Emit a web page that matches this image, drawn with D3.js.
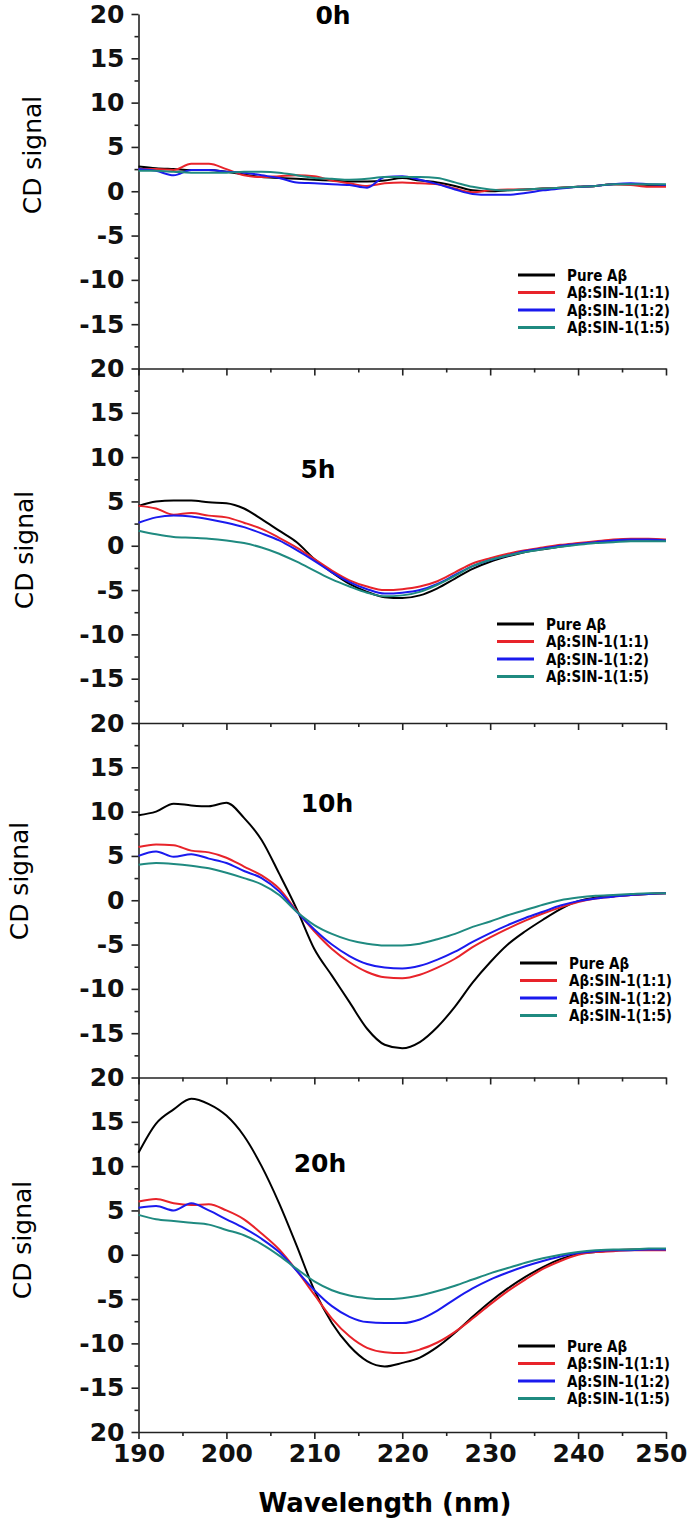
<!DOCTYPE html>
<html>
<head>
<meta charset="utf-8">
<script src="https://cdn.jsdelivr.net/npm/d3@7"></script>
<style>
  html, body { margin: 0; padding: 0; background: #fff; }
  svg { display: block; }
</style>
</head>
<body>
<script>
// ---------------- DATA ----------------
const wavelengths = [190,192,194,196,198,200,202,204,206,208,210,212,214,216,218,220,222,224,226,228,230,232,234,236,238,240,242,244,246,248,250];
const seriesNames = ["Pure A\u03b2", "A\u03b2:SIN-1(1:1)", "A\u03b2:SIN-1(1:2)", "A\u03b2:SIN-1(1:5)"];
const panelTitles = ["0h", "5h", "10h", "20h"];
const xTickValues = [190, 200, 210, 220, 230, 240, 250];
const yTickValues = [20, 15, 10, 5, 0, -5, -10, -15, -20];
const yTickLabels = ["20", "15", "10", "5", "0", "-5", "-10", "-15", "20"];

// 0 h
const h0_pure = [2.8,2.6,2.5,2.4,2.4,2.2,1.9,1.6,1.5,1.4,1.3,1.2,1.1,1.1,1.2,1.5,1.2,1.0,0.6,0.1,0.0,0.1,0.2,0.3,0.4,0.5,0.6,0.8,0.8,0.7,0.7];
const h0_r11  = [2.5,2.5,2.4,3.1,3.1,2.5,1.8,1.6,1.7,1.8,1.7,1.2,0.9,0.6,0.9,1.0,0.9,0.8,0.3,-0.1,0.1,0.2,0.2,0.3,0.4,0.5,0.6,0.8,0.7,0.5,0.5];
const h0_r12  = [2.5,2.3,1.8,2.4,2.4,2.2,2.1,1.8,1.5,1.0,0.9,0.8,0.7,0.4,1.6,1.7,1.3,0.8,0.2,-0.3,-0.4,-0.4,-0.2,0.1,0.3,0.5,0.6,0.8,0.9,0.8,0.7];
const h0_r15  = [2.3,2.3,2.2,2.1,2.1,2.1,2.2,2.2,2.1,1.8,1.5,1.4,1.3,1.4,1.6,1.6,1.6,1.5,1.0,0.5,0.2,0.1,0.2,0.3,0.4,0.5,0.6,0.8,0.8,0.8,0.8];
// 5 h
const h5_pure = [4.5,5.0,5.1,5.1,4.9,4.8,4.2,3.0,1.7,0.4,-1.5,-3.0,-4.3,-5.2,-5.8,-5.9,-5.6,-4.8,-3.7,-2.6,-1.8,-1.2,-0.7,-0.4,-0.1,0.2,0.4,0.6,0.7,0.7,0.6];
const h5_r11  = [4.5,4.2,3.5,3.7,3.4,3.2,2.6,1.9,0.9,-0.2,-1.5,-2.8,-3.9,-4.6,-5.0,-4.9,-4.6,-4.0,-3.0,-2.0,-1.4,-0.9,-0.5,-0.2,0.1,0.3,0.5,0.7,0.8,0.8,0.7];
const h5_r12  = [2.6,3.2,3.4,3.3,3.0,2.6,2.1,1.4,0.6,-0.5,-1.7,-3.0,-4.1,-4.9,-5.4,-5.3,-5.0,-4.3,-3.3,-2.3,-1.6,-1.1,-0.6,-0.3,0.0,0.2,0.4,0.6,0.7,0.7,0.6];
const h5_r15  = [1.7,1.3,1.0,0.9,0.8,0.6,0.3,-0.2,-0.9,-1.8,-2.8,-3.8,-4.6,-5.3,-5.7,-5.6,-5.2,-4.4,-3.4,-2.3,-1.6,-1.1,-0.7,-0.4,-0.1,0.1,0.3,0.4,0.5,0.5,0.5];
// 10 h
const h10_pure = [9.6,10.0,10.9,10.7,10.6,11.0,9.3,6.8,3.0,-1.0,-5.5,-8.5,-11.5,-14.5,-16.3,-16.7,-16.0,-14.3,-12.0,-9.3,-7.0,-5.0,-3.5,-2.2,-1.0,-0.1,0.3,0.5,0.6,0.7,0.8];
const h10_r11  = [6.0,6.3,6.2,5.6,5.4,4.8,3.8,2.8,1.3,-1.2,-3.5,-5.5,-7.0,-8.1,-8.7,-8.8,-8.4,-7.6,-6.6,-5.3,-4.2,-3.2,-2.3,-1.5,-0.8,-0.2,0.2,0.4,0.6,0.7,0.8];
const h10_r12  = [5.0,5.5,4.9,5.2,4.7,4.2,3.3,2.5,1.0,-1.3,-3.3,-5.0,-6.3,-7.2,-7.6,-7.7,-7.4,-6.7,-5.8,-4.7,-3.7,-2.8,-2.0,-1.3,-0.6,-0.1,0.2,0.4,0.6,0.7,0.8];
const h10_r15  = [4.0,4.2,4.1,3.9,3.6,3.1,2.5,1.8,0.6,-1.3,-2.8,-3.8,-4.5,-4.9,-5.1,-5.1,-4.9,-4.4,-3.8,-3.0,-2.4,-1.7,-1.1,-0.5,0.0,0.3,0.5,0.6,0.7,0.8,0.8];
// 20 h
const h20_pure = [11.5,14.8,16.4,17.6,17.0,15.7,13.4,10.0,5.8,1.0,-4.0,-7.7,-10.3,-12.0,-12.6,-12.2,-11.6,-10.4,-8.8,-7.0,-5.3,-3.8,-2.5,-1.4,-0.5,0.1,0.3,0.5,0.6,0.6,0.6];
const h20_r11  = [6.0,6.3,5.8,5.6,5.7,5.0,4.0,2.4,0.6,-1.8,-4.5,-7.2,-9.2,-10.5,-11.0,-11.1,-10.7,-9.9,-8.7,-7.2,-5.6,-4.1,-2.8,-1.6,-0.7,0.0,0.3,0.4,0.5,0.5,0.5];
const h20_r12  = [5.3,5.5,5.0,5.8,5.0,4.0,3.0,1.8,0.3,-1.8,-4.0,-5.8,-7.0,-7.6,-7.7,-7.7,-7.3,-6.3,-5.0,-3.8,-2.8,-2.0,-1.3,-0.7,-0.2,0.2,0.4,0.5,0.5,0.6,0.6];
const h20_r15  = [4.5,4.0,3.8,3.6,3.4,2.8,2.2,1.2,-0.1,-1.6,-3.0,-4.0,-4.6,-4.9,-5.0,-4.9,-4.6,-4.1,-3.5,-2.8,-2.1,-1.5,-0.9,-0.4,0.0,0.3,0.5,0.6,0.6,0.7,0.7];

const panelSeries = [
  [h0_pure, h0_r11, h0_r12, h0_r15],
  [h5_pure, h5_r11, h5_r12, h5_r15],
  [h10_pure, h10_r11, h10_r12, h10_r15],
  [h20_pure, h20_r11, h20_r12, h20_r15]
];

// ---------------- STYLE / LAYOUT ----------------
const colors = ["#000000", "#e8232a", "#1a1aee", "#1f8a80"];
const W = 688, H = 1523;
const top0 = 14, panelH = 354.5;
const xLeft = 138.5, xRight = 666;
const titlePos = [[333, 24], [318, 478], [327, 812], [320, 1172]];
const ylabPos = [[41, 155], [33, 550], [28, 881], [31, 1240]];
const legendPos = [[518, 275], [497, 624], [520, 963], [518, 1346]];
const legendStep = 17.5;

const svg = d3.select("body").append("svg").attr("width", W).attr("height", H);

const x = d3.scaleLinear().domain([190, 250]).range([xLeft, xRight]);
const boldFont = "'DejaVu Sans', Verdana, sans-serif";

panelSeries.forEach((series, p) => {
  const T = top0 + p * panelH;
  const y = d3.scaleLinear().domain([-20, 20]).range([T + panelH, T]);
  const g = svg.append("g");

  // minor y ticks
  const minorVals = [-17.5, -12.5, -7.5, -2.5, 2.5, 7.5, 12.5, 17.5];
  const yMinor = d3.axisLeft(y).tickValues(minorVals).tickSize(4).tickSizeOuter(0).tickFormat("");
  g.append("g").attr("transform", `translate(${xLeft},0)`).call(yMinor)
    .call(s => s.select(".domain").remove());

  // major y ticks
  const majVals = p === 0 ? yTickValues : yTickValues.slice(1);
  const yMajor = d3.axisLeft(y).tickValues(majVals).tickSize(7).tickSizeOuter(0)
    .tickPadding(7)
    .tickFormat(v => yTickLabels[yTickValues.indexOf(v)]);
  g.append("g").attr("class", "yax").attr("transform", `translate(${xLeft},0)`).call(yMajor);

  // x axis at bottom of panel
  const xMinor = d3.axisBottom(x).tickValues([195, 205, 215, 225, 235, 245]).tickSize(4).tickSizeOuter(0).tickFormat("");
  g.append("g").attr("transform", `translate(0,${T + panelH})`).call(xMinor)
    .call(s => s.select(".domain").remove());
  const xMajor = d3.axisBottom(x).tickValues(xTickValues).tickSize(7).tickSizeOuter(0).tickPadding(5)
    .tickFormat(p === 3 ? d3.format("d") : "");
  g.append("g").attr("class", "xax").attr("transform", `translate(0,${T + panelH})`).call(xMajor);

  // lines
  const line = d3.line().x((d, i) => x(wavelengths[i])).y(d => y(d)).curve(d3.curveMonotoneX);
  series.forEach((vals, s) => {
    g.append("path").datum(vals).attr("d", line)
      .attr("fill", "none").attr("stroke", colors[s]).attr("stroke-width", 2)
      .attr("stroke-linejoin", "round");
  });

  // title
  g.append("text").attr("x", titlePos[p][0]).attr("y", titlePos[p][1])
    .attr("text-anchor", "middle").attr("font-family", boldFont).attr("font-weight", "bold")
    .attr("font-size", 25).text(panelTitles[p]);

  // y label
  g.append("text").attr("transform", `translate(${ylabPos[p][0]},${ylabPos[p][1]}) rotate(-90)`)
    .attr("text-anchor", "middle").attr("font-family", "'DejaVu Sans', sans-serif")
    .attr("font-size", 25).text("CD signal");

  // legend
  const [lx, ly] = legendPos[p];
  seriesNames.forEach((name, s) => {
    const yy = ly + s * legendStep;
    g.append("line").attr("x1", lx).attr("x2", lx + 37).attr("y1", yy).attr("y2", yy)
      .attr("stroke", colors[s]).attr("stroke-width", 3);
    g.append("text").attr("x", lx + 49).attr("y", yy + 5.5)
      .attr("font-family", "'DejaVu Sans Condensed', 'DejaVu Sans', sans-serif")
      .attr("font-stretch", "condensed")
      .attr("font-weight", "bold").attr("font-size", 15).text(name);
  });
});

// axis styling
svg.selectAll(".domain, .tick line").attr("stroke", "#222").attr("stroke-width", 1.6);
svg.selectAll(".yax text, .xax text").attr("font-family", boldFont).attr("font-weight", "bold")
  .attr("font-size", 25).attr("fill", "#111");
// keep the last x label inside the frame
svg.selectAll(".xax .tick text").filter(d => d === 250)
  .attr("text-anchor", "end").attr("x", 21);

// x axis title
svg.append("text").attr("x", 385).attr("y", 1512).attr("text-anchor", "middle")
  .attr("font-family", boldFont).attr("font-weight", "bold").attr("font-size", 26)
  .text("Wavelength (nm)");
</script>
</body>
</html>
